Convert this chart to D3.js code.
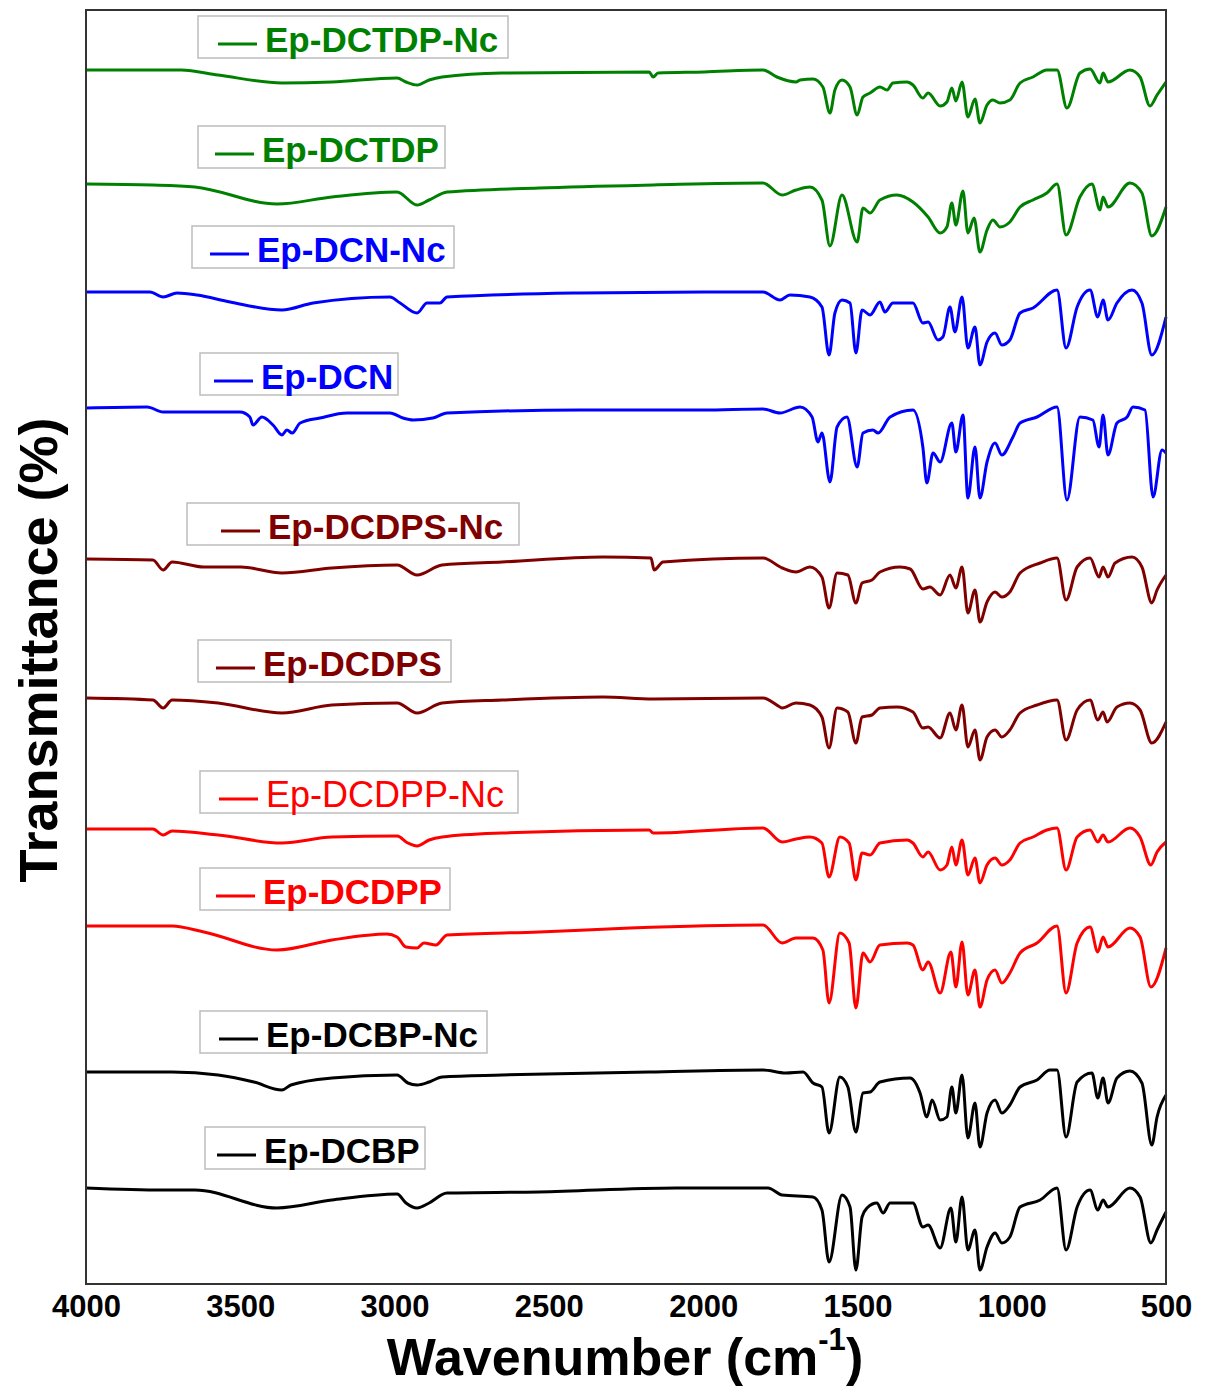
<!DOCTYPE html>
<html>
<head>
<meta charset="utf-8">
<script src="https://cdn.jsdelivr.net/npm/d3@7"></script>
<style>
  body { margin: 0; background: #fff; }
  text { font-family: "Liberation Sans", Arial, sans-serif; font-weight: bold; }
</style>
</head>
<body>
<svg id="chart" width="1207" height="1389"></svg>
<script>
// FTIR spectra, [wavenumber cm-1, relative transmittance a.u.] -- 0 = trace baseline
var ep_dctdp_nc = [[4000,0],[3692,0],[3572,-5],[3365,-13],[3203,-12],[2992,-8],[2963,-12],[2927,-15],[2888,-10],[2846,-7],[2652,-3],[2175,-2],[2162,-7],[2146,-3],[1997,-2],[1806,0],[1761,-7],[1699,-12],[1686,-10],[1644,-9],[1612,-17],[1589,-43],[1573,-20],[1550,-10],[1524,-17],[1501,-45],[1482,-27],[1459,-23],[1427,-17],[1404,-20],[1385,-13],[1339,-12],[1320,-15],[1288,-28],[1271,-23],[1232,-36],[1210,-32],[1194,-18],[1181,-31],[1161,-12],[1142,-47],[1119,-29],[1103,-53],[1080,-35],[1061,-30],[1038,-33],[1006,-30],[973,-13],[931,-7],[886,0],[853,0],[821,-38],[779,-3],[746,1],[714,-13],[704,-3],[688,-12],[617,0],[584,-7],[552,-36],[529,-25],[500,-12]];
var ep_dctdp = [[4000,0],[3783,-1],[3647,-3],[3381,-20],[3203,-13],[2992,-8],[2927,-21],[2888,-16],[2830,-8],[2532,-4],[2162,-1],[1806,1],[1744,-11],[1699,-6],[1654,-3],[1615,-16],[1589,-62],[1550,-11],[1501,-58],[1482,-24],[1459,-29],[1427,-16],[1372,-11],[1320,-18],[1271,-33],[1232,-49],[1210,-43],[1194,-19],[1181,-41],[1158,-7],[1142,-49],[1122,-34],[1103,-68],[1080,-46],[1061,-36],[1038,-43],[1006,-38],[973,-23],[931,-16],[886,-9],[853,0],[824,-51],[779,-13],[740,0],[714,-26],[704,-13],[688,-23],[617,1],[578,-9],[546,-52],[500,-23]];
var ep_dcn_nc = [[4000,-1],[3793,-1],[3750,-6],[3705,-2],[3640,-4],[3533,-11],[3365,-19],[3264,-12],[3015,-6],[2982,-12],[2927,-22],[2895,-12],[2853,-12],[2830,-6],[2399,-2],[2000,-1],[1806,-1],[1751,-9],[1719,-4],[1654,-6],[1615,-16],[1592,-64],[1573,-22],[1550,-9],[1524,-12],[1505,-62],[1485,-19],[1459,-24],[1427,-11],[1411,-21],[1385,-12],[1320,-12],[1288,-32],[1271,-31],[1239,-49],[1223,-46],[1200,-16],[1184,-41],[1161,-6],[1142,-57],[1119,-36],[1103,-74],[1080,-51],[1054,-42],[1032,-54],[1006,-49],[973,-22],[931,-17],[853,1],[824,-57],[788,-16],[746,1],[721,-26],[704,-9],[688,-29],[659,-12],[610,1],[578,-12],[546,-64],[500,-26]];
var ep_dcn = [[4000,0],[3802,1],[3750,-4],[3501,-4],[3469,-9],[3459,-17],[3430,-9],[3394,-17],[3365,-27],[3349,-22],[3332,-25],[3306,-15],[3242,-10],[3154,-5],[3015,-5],[2973,-10],[2940,-12],[2876,-10],[2830,-5],[2399,-2],[2000,-2],[1806,-1],[1751,-5],[1686,1],[1647,-9],[1628,-34],[1615,-25],[1589,-74],[1566,-19],[1534,-9],[1501,-59],[1482,-25],[1450,-22],[1433,-25],[1394,-9],[1320,-2],[1288,-39],[1275,-75],[1255,-45],[1232,-54],[1194,-15],[1181,-44],[1158,-7],[1142,-90],[1119,-39],[1103,-90],[1080,-54],[1054,-35],[1032,-47],[996,-29],[973,-15],[918,-9],[853,1],[821,-92],[779,-9],[737,-12],[717,-39],[704,-7],[688,-47],[659,-15],[626,-9],[607,1],[568,-2],[542,-89],[513,-42],[500,-45]];
var ep_dcdps_nc = [[4000,1],[3783,0],[3750,-10],[3721,-2],[3618,-7],[3498,-7],[3365,-13],[3203,-8],[2992,-5],[2927,-15],[2846,-5],[2652,-2],[2325,3],[2169,2],[2159,-10],[2130,-2],[1806,2],[1744,-8],[1699,-12],[1654,-7],[1615,-17],[1592,-48],[1566,-13],[1531,-15],[1505,-43],[1485,-23],[1453,-20],[1427,-12],[1362,-7],[1329,-9],[1288,-29],[1265,-27],[1232,-35],[1200,-15],[1181,-28],[1161,-7],[1142,-53],[1119,-30],[1103,-62],[1080,-42],[1054,-32],[1032,-37],[1006,-32],[973,-13],[908,-3],[853,2],[824,-40],[788,-7],[746,2],[717,-17],[704,-7],[688,-17],[665,-3],[610,3],[578,-7],[546,-43],[529,-30],[500,-15]];
var ep_dcdps = [[4000,1],[3783,-1],[3750,-9],[3721,-1],[3572,-4],[3365,-14],[3203,-6],[2992,-4],[2927,-14],[2846,-4],[2652,-1],[2325,2],[2162,0],[1806,1],[1751,-8],[1744,-9],[1699,-4],[1654,-6],[1615,-18],[1592,-49],[1566,-9],[1531,-13],[1505,-44],[1485,-18],[1453,-16],[1427,-9],[1372,-8],[1320,-13],[1288,-29],[1271,-28],[1232,-39],[1200,-14],[1181,-31],[1161,-6],[1142,-48],[1119,-31],[1103,-61],[1080,-38],[1054,-31],[1032,-38],[1006,-31],[973,-14],[918,-6],[853,-1],[824,-41],[788,-11],[746,-1],[721,-21],[704,-13],[691,-23],[659,-8],[617,-4],[584,-11],[546,-44],[500,-23]];
var ep_dcdpp_nc = [[4000,0],[3783,0],[3750,-6],[3721,-2],[3572,-6],[3365,-14],[3203,-8],[2992,-7],[2957,-14],[2927,-17],[2888,-11],[2846,-8],[2652,-4],[2175,-1],[2162,-4],[1806,1],[1744,-13],[1699,-10],[1654,-8],[1615,-14],[1592,-48],[1557,-8],[1527,-14],[1505,-51],[1485,-24],[1459,-26],[1427,-14],[1339,-11],[1320,-14],[1288,-28],[1271,-23],[1232,-41],[1210,-36],[1194,-18],[1181,-36],[1161,-11],[1142,-46],[1119,-29],[1103,-54],[1080,-36],[1054,-29],[1032,-36],[1006,-31],[973,-14],[931,-8],[886,-1],[853,1],[824,-41],[788,-8],[746,-1],[721,-13],[704,-6],[688,-13],[617,1],[584,-8],[549,-36],[529,-23],[500,-13]];
var ep_dcdpp = [[4000,0],[3721,0],[3618,-6],[3381,-24],[3203,-14],[3025,-8],[2992,-11],[2963,-21],[2927,-22],[2905,-17],[2866,-19],[2830,-9],[2532,-6],[2237,-2],[1806,1],[1744,-17],[1699,-12],[1644,-12],[1612,-24],[1592,-77],[1557,-7],[1527,-17],[1505,-82],[1482,-27],[1459,-36],[1427,-19],[1339,-17],[1320,-19],[1288,-44],[1271,-36],[1232,-67],[1197,-26],[1181,-61],[1161,-16],[1142,-69],[1119,-44],[1103,-81],[1080,-54],[1054,-44],[1032,-57],[1006,-47],[973,-27],[918,-17],[853,0],[824,-67],[788,-17],[746,-1],[721,-26],[704,-11],[688,-21],[617,-2],[584,-11],[549,-61],[500,-22]];
var ep_dcbp_nc = [[4000,-1],[3721,-1],[3572,-4],[3456,-11],[3365,-19],[3336,-14],[3203,-7],[2992,-4],[2957,-12],[2927,-14],[2888,-11],[2846,-6],[2652,-4],[2175,-1],[1806,1],[1732,-2],[1676,-1],[1644,-12],[1615,-16],[1592,-62],[1557,-6],[1531,-16],[1505,-61],[1482,-22],[1459,-21],[1427,-11],[1329,-7],[1297,-22],[1275,-46],[1258,-29],[1232,-49],[1210,-46],[1194,-16],[1181,-42],[1161,-4],[1142,-67],[1119,-32],[1103,-76],[1080,-42],[1054,-29],[1032,-42],[1006,-34],[973,-16],[918,-9],[876,1],[853,1],[824,-66],[788,-11],[740,-2],[721,-27],[704,-7],[688,-32],[659,-7],[617,0],[578,-12],[546,-74],[529,-46],[500,-24]];
var ep_dcbp = [[4000,1],[3750,-1],[3647,-1],[3381,-19],[3203,-11],[2992,-5],[2963,-14],[2927,-19],[2888,-14],[2830,-4],[2532,-3],[2088,1],[1790,1],[1744,-6],[1644,-8],[1615,-21],[1592,-73],[1550,-6],[1524,-18],[1505,-81],[1485,-28],[1469,-19],[1437,-14],[1417,-24],[1394,-14],[1320,-14],[1288,-38],[1271,-36],[1232,-59],[1197,-19],[1181,-53],[1161,-8],[1142,-61],[1119,-41],[1103,-81],[1080,-58],[1054,-44],[1032,-54],[1006,-48],[973,-18],[908,-11],[853,1],[824,-61],[788,-18],[746,-1],[721,-21],[704,-11],[688,-18],[617,1],[584,-8],[549,-54],[529,-41],[500,-23]];

var names = ["Ep-DCTDP-Nc","Ep-DCTDP","Ep-DCN-Nc","Ep-DCN","Ep-DCDPS-Nc","Ep-DCDPS","Ep-DCDPP-Nc","Ep-DCDPP","Ep-DCBP-Nc","Ep-DCBP"];
var spectra = [ep_dctdp_nc, ep_dctdp, ep_dcn_nc, ep_dcn, ep_dcdps_nc, ep_dcdps, ep_dcdpp_nc, ep_dcdpp, ep_dcbp_nc, ep_dcbp];
// vertical stacking offset of each trace (a.u.)
var offsets = [1214, 1100, 993, 876, 724, 585, 455, 358, 213, 95];
var xTicks = [4000, 3500, 3000, 2500, 2000, 1500, 1000, 500];

var colors = ["#008000","#008000","#0000ff","#0000ff","#800000","#800000","#ff0000","#ff0000","#000000","#000000"];
// legend boxes: left, top, width, text x
var legendAt = [[198,16,310,265],[198,126,247,262],[192,226,262,257],[200,353,198,261],[187,503,332,268],
                [198,640,253,263],[200,771,318,266],[200,868,250,263],[200,1011,287,266],[205,1127,220,264]];

var svg = d3.select("#chart"),
    plotL = 86, plotR = 1166, plotT = 10, plotB = 1284;

var x = d3.scaleLinear().domain([4000, 500]).range([plotL, plotR]);
var y = d3.scaleLinear().domain([0, 1274]).range([plotB, plotT]);

var line = d3.line()
    .x(function(d){ return x(d[0]); })
    .y(function(d){ return y(d[1]); })
    .curve(d3.curveMonotoneX);

spectra.forEach(function(s, i){
    var pts = s.map(function(d){ return [d[0], d[1] + offsets[i]]; });
    svg.append("path")
        .datum(pts)
        .attr("d", line)
        .attr("fill", "none")
        .attr("stroke", colors[i])
        .attr("stroke-width", 3)
        .attr("stroke-linejoin", "round");
});

// legends
legendAt.forEach(function(p, i){
    var g = svg.append("g");
    g.append("rect")
        .attr("x", p[0]).attr("y", p[1])
        .attr("width", p[2]).attr("height", 42)
        .attr("fill", "#fff").attr("stroke", "#bdbdbd").attr("stroke-width", 1.5);
    g.append("line")
        .attr("x1", p[3] - 47).attr("x2", p[3] - 8)
        .attr("y1", p[1] + 28).attr("y2", p[1] + 28)
        .attr("stroke", colors[i]).attr("stroke-width", 3);
    g.append("text")
        .attr("x", p[3]).attr("y", p[1] + 36)
        .attr("fill", colors[i])
        .style("font-size", names[i] == "Ep-DCDPP-Nc" ? "36px" : "35px")
        .style("font-weight", names[i] == "Ep-DCDPP-Nc" ? "normal" : "bold")
        .text(names[i]);
});

// frame
svg.append("rect")
    .attr("x", plotL).attr("y", plotT)
    .attr("width", plotR - plotL).attr("height", plotB - plotT)
    .attr("fill", "none").attr("stroke", "#333").attr("stroke-width", 2);

var xAxis = svg.append("g")
    .attr("transform", "translate(0," + plotB + ")")
    .call(d3.axisBottom(x).tickValues(xTicks).tickSize(0).tickPadding(11).tickFormat(d3.format("d")));
xAxis.select(".domain").remove();
xAxis.selectAll("text")
    .attr("fill", "#000")
    .style("font-size", "31px")
    .style("font-family", '"Liberation Sans", Arial, sans-serif')
    .style("font-weight", "bold");

var xt = svg.append("text")
    .attr("x", 625).attr("y", 1375)
    .attr("text-anchor", "middle")
    .style("font-size", "52px");
xt.append("tspan").text("Wavenumber (cm");
xt.append("tspan").attr("dy", -25).style("font-size", "31px").text("-1");
xt.append("tspan").attr("dy", 25).text(")");

svg.append("text")
    .attr("transform", "translate(57,650) rotate(-90)")
    .attr("text-anchor", "middle")
    .style("font-size", "54px")
    .text("Transmittance (%)");
</script>
</body>
</html>
